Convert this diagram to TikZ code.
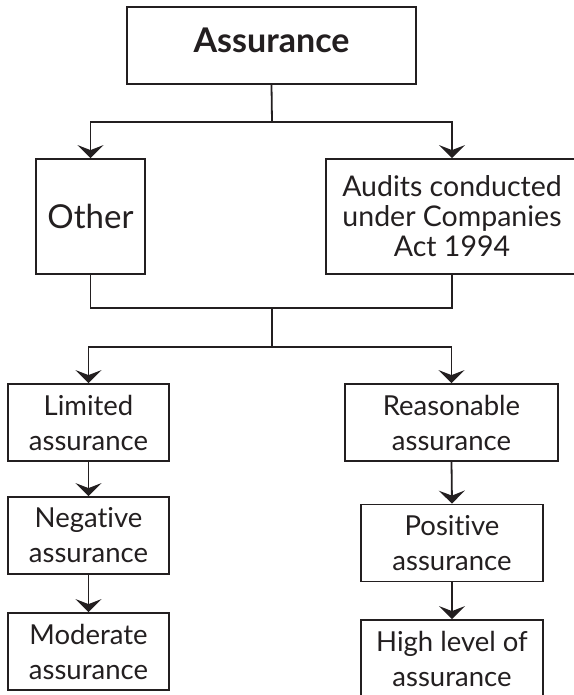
\documentclass[tikz,border=0pt]{standalone}
\usepackage{fontspec}
\setmainfont{Lato}[Ligatures={NoCommon,NoRare,NoContextual}]
\usetikzlibrary{arrows.meta}
\definecolor{ink}{HTML}{231F20}
\begin{document}
\begin{tikzpicture}[x=1pt,y=-1pt,
  line width=1.8pt, draw=ink, text=ink,
  box/.style={draw=ink, line width=1.8pt, rectangle, align=center, inner sep=0pt},
  lowbox/.style={box, font=\fontsize{27.5}{35}\selectfont, minimum height=77},
  arr/.style={-{Stealth[length=13pt, width=26pt, inset=5pt]}, line width=1.8pt, draw=ink}
]
\path[use as bounding box, fill=white] (0,0) rectangle (573,695);

% top level
\node[box, minimum width=289, minimum height=77, text depth=11pt,
      font=\fontsize{34}{40}\selectfont\bfseries] (assur) at (271.5,45.5) {Assurance};

% second level
\node[box, minimum width=109, minimum height=115,
      font=\fontsize{33}{38}\selectfont] (other) at (90.5,216.5) {Other};
\node[box, minimum width=252, minimum height=115,
      font=\fontsize{28.5}{30}\selectfont] (audits) at (452,216.5)
      {Audits conducted\\under Companies\\Act 1994};

% levels of assurance
\node[lowbox, minimum width=161] (limited) at (88.5,422.5) {Limited\\assurance};
\node[lowbox, minimum width=213] (reasonable) at (451.5,422.5) {Reasonable\\assurance};
\node[lowbox, minimum width=161] (negative) at (88.5,535.5) {Negative\\assurance};
\node[lowbox, minimum width=182] (positive) at (452,543) {Positive\\assurance};
\node[lowbox, minimum width=161] (moderate) at (88.5,651.5) {Moderate\\assurance};
\node[lowbox, minimum width=182] (high) at (452,658.5) {High level of\\assurance};

% junction points
\coordinate (j1) at (272,122);
\coordinate (j2) at (272,308);
\coordinate (j3) at (272,347);

% connectors
\draw (assur.south) -- (j1);
\draw[arr] (j1) -| (other.north);
\draw[arr] (j1) -| (audits.north);

\draw (other.south) |- (j2);
\draw (audits.south) |- (j2);
\draw (j2) -- (j3);
\draw[arr] (j3) -| (limited.north);
\draw[arr] (j3) -| (reasonable.north);

\draw[arr] (limited.south) -- (negative.north);
\draw[arr] (negative.south) -- (moderate.north);
\draw[arr] (reasonable.south) -- (positive.north);
\draw[arr] (positive.south) -- (high.north);
\end{tikzpicture}
\end{document}
